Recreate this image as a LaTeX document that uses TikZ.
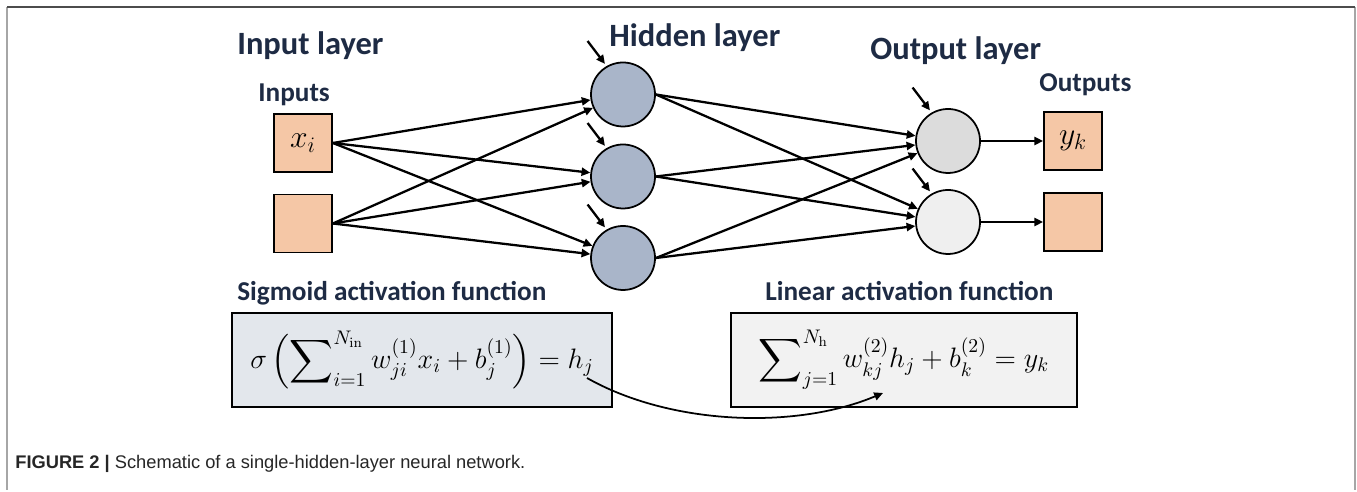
\RequirePackage{fix-cm}
\documentclass[tikz,border=0pt]{standalone}
\usepackage{amsmath}
\usepackage{exscale}
\usepackage[no-math]{fontspec}
\setmainfont{Carlito}
\newfontfamily\capfont{Liberation Sans}
\usetikzlibrary{arrows.meta}

\definecolor{navy}{HTML}{1E2B44}
\definecolor{peach}{HTML}{F5C7A6}
\definecolor{slate}{HTML}{A9B5C9}
\definecolor{outgray}{HTML}{DCDCDC}
\definecolor{outlight}{HTML}{EFEFEF}
\definecolor{sigfill}{HTML}{E3E7EC}
\definecolor{linfill}{HTML}{F2F2F2}

\begin{document}
\begin{tikzpicture}[
	unit/.style={draw, line width=1pt, fill=peach, minimum size=1.16cm, inner sep=0pt, font=\fontsize{18}{20}\selectfont},
	neuron/.style={draw, circle, line width=1pt, minimum size=1.28cm, inner sep=0pt},
	layer/.style={anchor=base west, inner sep=0pt, text=navy, font=\fontsize{18.5}{21}\selectfont\bfseries},
	sublabel/.style={anchor=base west, inner sep=0pt, text=navy, font=\fontsize{15.5}{18}\selectfont\bfseries},
	formbox/.style={draw, line width=1pt, minimum height=1.88cm, inner sep=0pt, font=\fontsize{16}{19}\selectfont},
	arr/.style={-{Triangle[length=5pt,width=4.6pt]}, line width=1.3pt},
	bias/.style={-{Triangle[length=5pt,width=4.6pt]}, line width=1.3pt, shorten >=1.5pt}]

	% page and frame
	\fill[white] (0,0) rectangle (27.14,9.8);
	\draw[gray!70, line width=1.2pt] (0.14,0) -- (0.14,9.66);
	\draw[gray!70, line width=1.2pt] (27.10,0) -- (27.10,9.66);
	\draw[black!70, line width=1.2pt] (0.14,9.66) -- (27.10,9.66);
	\useasboundingbox (0,0) rectangle (27.14,9.8);

	\draw
	node[layer] at (4.74,8.70) (tin) {Input layer}
	node[layer] at (12.18,8.86) (thid) {Hidden layer}
	node[layer] at (17.40,8.60) (tout) {Output layer}
	node[sublabel] at (5.16,7.76) (tinputs) {Inputs}
	node[sublabel] at (20.78,7.96) (toutputs) {Outputs}

	node[unit] at (6.06,6.94) (in1) {$x_i$}
	node[unit] at (6.06,5.33) (in2) {}
	node[neuron, fill=slate] at (12.46,7.91) (h1) {}
	node[neuron, fill=slate] at (12.46,6.27) (h2) {}
	node[neuron, fill=slate] at (12.46,4.64) (h3) {}
	node[neuron, fill=outgray] at (18.96,6.98) (o1) {}
	node[neuron, fill=outlight] at (18.96,5.36) (o2) {}
	node[unit] at (21.46,6.98) (out1) {$y_k$}
	node[unit] at (21.46,5.36) (out2) {}

	node[sublabel] at (4.74,3.79) (tsig) {Sigmoid activation function}
	node[sublabel] at (15.30,3.79) (tlin) {Linear activation function}
	node[formbox, fill=sigfill, minimum width=7.6cm] at (8.44,2.60) (sig)
		{$\displaystyle\sigma\left(\sum\nolimits_{i=1}^{N_{\mathrm{in}}} w_{ji}^{(1)}x_i + b_j^{(1)}\right) = h_j$}
	node[formbox, fill=linfill, minimum width=6.92cm] at (18.08,2.60) (lin)
		{$\displaystyle\sum\nolimits_{j=1}^{N_{\mathrm{h}}} w_{kj}^{(2)}h_j + b_k^{(2)} = y_k$}

	node[anchor=base west, inner sep=0pt, text=black!85, font=\capfont\fontsize{10.4}{12}\selectfont] at (0.30,0.42) (cap)
		{\textbf{FIGURE 2 |} Schematic of a single-hidden-layer neural network.};

	% input -> hidden
	\draw[arr] (in1.east) -- (h1);
	\draw[arr] (in1.east) -- (h2);
	\draw[arr] (in1.east) -- (h3);
	\draw[arr] (in2.east) -- (h1);
	\draw[arr] (in2.east) -- (h2);
	\draw[arr] (in2.east) -- (h3);
	% hidden -> output
	\draw[arr] (h1.east) -- (o1);
	\draw[arr] (h1.east) -- (o2);
	\draw[arr] (h2.east) -- (o1);
	\draw[arr] (h2.east) -- (o2);
	\draw[arr] (h3.east) -- (o1);
	\draw[arr] (h3.east) -- (o2);
	\draw[arr] (o1) -- (out1);
	\draw[arr] (o2) -- (out2);

	% bias arrows
	\foreach \n in {h1,h2,h3,o1,o2}{
		\path (\n.120) ++(-0.38,0.5) coordinate (\n b);
		\draw[bias] (\n b) -- (\n.120);
	}

	% h_j feeds the linear output
	\coordinate (hjtail) at (11.74,2.24);
	\coordinate (hjtip) at (17.66,1.94);
	\draw[arr, line width=1pt] (hjtail) .. controls (13.4,1.3) and (15.9,1.2) .. (hjtip);
\end{tikzpicture}
\end{document}
